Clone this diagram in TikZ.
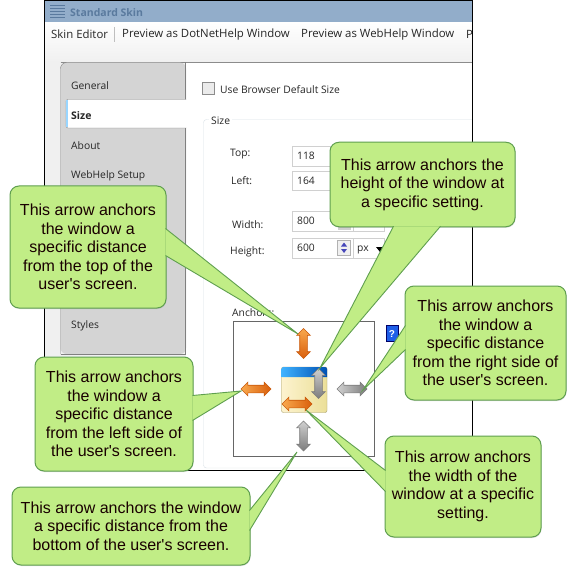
\documentclass[tikz,border=0pt]{standalone}
\usepackage{fontspec}
\setmainfont{Liberation Sans}
\newfontfamily\uifont{Open Sans}
\usepackage{xcolor}
\usetikzlibrary{
  arrows.meta,
  shapes.arrows,
  positioning,
  calc,
  shadows
}
\definecolor{csFill}{HTML}{C1ED86}
\definecolor{csLine}{HTML}{5F9F4F}
\definecolor{csTitle}{HTML}{92ADCA}
\definecolor{csTitleText}{HTML}{5A7A9E}
\definecolor{csPanel}{HTML}{D4D4D4}
\definecolor{csGroup}{HTML}{D8E0E6}
\definecolor{csField}{HTML}{D0D0D0}
\definecolor{csBack}{HTML}{F0F0F0}
\definecolor{csOrangeA}{HTML}{F9A94E}
\definecolor{csOrangeB}{HTML}{D95F0C}
\definecolor{csOrangeC}{HTML}{C9590B}
\definecolor{csGrayA}{HTML}{D0D0D0}
\definecolor{csGrayB}{HTML}{7C7C7C}
\definecolor{csHelp}{HTML}{1F5FE8}
\definecolor{csIconA}{HTML}{FDF3CF}
\definecolor{csIconB}{HTML}{EBDF98}
\tikzset{
  callout/.style={
    draw=csLine, fill=csFill, rounded corners=9pt, line width=1pt, align=center,
    font=\fontsize{16}{18.5}\selectfont, inner sep=0pt, text=black!90!red,
    drop shadow={shadow xshift=0.5pt, shadow yshift=-1pt, opacity=0.25}
  },
  tail/.style={draw=csLine, fill=csFill, line width=0.9pt, line join=miter},
  uitext/.style={font=\uifont\fontsize{10.3}{12}\selectfont, anchor=west, inner sep=0pt, text=black!85, yshift=-1pt},
  bartext/.style={uitext, font=\uifont\fontsize{11.4}{12}\selectfont},
  boldtext/.style={uitext, font=\uifont\bfseries\fontsize{10.5}{12}\selectfont},
  fieldbox/.style={draw=csField, fill=white, line width=1pt},
  arrowbase/.style={double arrow, minimum height=30pt, minimum width=13pt, inner xsep=0pt, inner ysep=3.5pt,
    double arrow head extend=3pt, double arrow head indent=0pt, line width=0.6pt},
  orangeh/.style={arrowbase, draw=csOrangeC, left color=csOrangeA, right color=csOrangeB},
  orangev/.style={arrowbase, draw=csOrangeC, rotate=90, top color=csOrangeA, bottom color=csOrangeB},
  grayh/.style={arrowbase, draw=csGrayB, left color=csGrayA, right color=csGrayB},
  grayv/.style={arrowbase, draw=csGrayB, rotate=90, top color=csGrayA, bottom color=csGrayB}
}

\begin{document}
\begin{tikzpicture}[x=1pt, y=-1pt]
  \useasboundingbox (0,0) rectangle (576,575);
  \fill[white] (0,0) rectangle (576,575);

  \begin{scope}
    \clip (44.5,0.5) rectangle (472.5,470);
    \fill[csBack] (44.5,22) rectangle (472.5,470);
    \shade[top color=white, bottom color=csBack] (44.5,22) rectangle (472.5,62);
    \fill[csTitle] (44.5,0.5) rectangle (472.5,22);
    \fill[white] (186,62) rectangle (472.5,470);
    \draw[black!45] (60.5,62.5) -- (472.5,62.5);
    \foreach \iy in {5,8,11,14,17} {
      \draw[csTitleText, line width=0.8pt] (50,\iy) -- (65,\iy);
    }
    \node[boldtext, text=csTitleText] (titleLabel) at (70,12) {Standard Skin};
    \node[bartext] (editorLabel) at (51,33.5) {Skin Editor};
    \draw[black!25] (114.5,27) -- (114.5,42);
    \node[bartext] (dotnetLabel) at (122,33.5) {Preview as DotNetHelp Window};
    \node[bartext] (webhelpLabel) at (301,33.5) {Preview as WebHelp Window};
    \node[bartext] (moreLabel) at (466,33.5) {P};

    \fill[csPanel, rounded corners=6pt] (186,62.5) -- (60.5,62.5) -- (60.5,354) -- (186,354) -- cycle;
    \draw[black!50, rounded corners=6pt] (186,62.5) -- (60.5,62.5) -- (60.5,354);
    \draw[black!50] (60.5,354) -- (185.5,354) -- (185.5,62.5);
    \draw[black!50, fill=white, rounded corners=2pt] (186,99.5) -- (66,99.5) -- (66,128) -- (186,128);
    \fill[white] (170,100) rectangle (187,127.5);
    \fill[blue!40!cyan!40] (66,100.5) rectangle (68,127.5);
    \node[uitext] (generalLabel) at (71,85) {General};
    \node[boldtext] (sizeTab) at (71,115) {Size};
    \node[uitext] (aboutLabel) at (71,145) {About};
    \node[uitext] (setupLabel) at (71,175) {WebHelp Setup};
    \node[uitext] (stylesLabel) at (71,325) {Styles};

    \draw[black!45, fill=black!8] (202.5,82.5) rectangle (214.5,94.5);
    \node[uitext] (browserLabel) at (220,89) {Use Browser Default Size};

    \draw[csGroup, rounded corners=3pt] (480,119.5) -- (203.5,119.5) -- (203.5,468) -- (480,468);
    \node[uitext, fill=white, inner xsep=2pt] (groupLabel) at (209,120) {Size};

    \node[uitext] (topLabel) at (230,153) {Top:};
    \node[uitext] (leftLabel) at (231,180) {Left:};
    \node[uitext] (widthLabel) at (232,224) {Width:};
    \node[uitext] (heightLabel) at (230,251) {Height:};
    \draw[fieldbox] (292.5,146.5) rectangle (400,166.5);
    \draw[fieldbox] (292.5,171.5) rectangle (400,191);
    \draw[fieldbox] (292.5,211.5) rectangle (384.5,231);
    \draw[fieldbox] (292.5,238.5) rectangle (384.5,258.5);
    \draw[csField, line width=1pt] (353.5,211.5) -- (353.5,231);
    \draw[csField, line width=1pt] (353.5,238.5) -- (353.5,258.5);
    \fill[csField] (337.5,212.5) rectangle (350.5,230);
    \draw[black!30, fill=black!6] (337.5,240.5) rectangle (350.5,255);
    \fill[blue!45!gray] (344,242.5) -- (347,246.5) -- (341,246.5) -- cycle;
    \fill[blue!45!gray] (344,253) -- (347,249) -- (341,249) -- cycle;
    \node[uitext] (topValue) at (297,155) {118};
    \node[uitext] (leftValue) at (297,180) {164};
    \node[uitext] (widthValue) at (297,220) {800};
    \node[uitext] (heightValue) at (297,247) {600};
    \node[uitext] (unitValue) at (357,249) {px};
    \fill[black] (376,247) -- (384,247) -- (380,252) -- cycle;

    \node[uitext] (anchorLabel) at (232,312) {Anchors:};
    \draw[black!60, line width=0.9pt] (233,321.5) rectangle (374.5,456);

    \fill[csHelp, draw=blue!40!black, line width=0.5pt] (386.5,325.5) rectangle (398,341);
    \node[font=\bfseries\fontsize{10}{11}\selectfont, text=white, inner sep=0pt] (helpMark) at (392,334) {?};
  \end{scope}
  \draw[black, line width=1pt] (44.5,470) -- (44.5,0.5) -- (472.5,0.5) -- (472.5,470) -- cycle;

  \shade[left color=csIconA, right color=csIconB, draw=csIconB!70!black, rounded corners=2pt] (281.5,367) rectangle (327,412.5);
  \shade[left color=cyan!60!blue!75, right color=blue!55!cyan!70!black, rounded corners=2pt]
    (281.5,377) -- (281.5,367) -- (327,367) [sharp corners] -- (327,377) -- cycle;

  \node[orangev] (arrowTop) at (303.5,343.5) {};
  \node[orangeh] (arrowLeft) at (256,389) {};
  \node[grayh] (arrowRight) at (352,389) {};
  \node[grayv] (arrowBottom) at (303.5,436) {};
  \node[grayv] (arrowHeight) at (318.5,383.5) {};
  \node[orangeh] (arrowWidth) at (297,404) {};

  \coordinate (tipTop) at (298,334);
  \coordinate (tipLeft) at (241,391);
  \coordinate (tipBottom) at (297,452);
  \coordinate (tipHeight) at (320,368);
  \coordinate (tipRight) at (363,390);
  \coordinate (tipWidth) at (306,410);

  \node[callout, minimum width=156pt, minimum height=122pt] (callTop) at (88,247) {This arrow anchors\\the window a\\specific distance\\from the top of the\\user\textquotesingle s screen.};
  \node[callout, minimum width=158pt, minimum height=114pt] (callLeft) at (114,414) {This arrow anchors\\the window a\\specific distance\\from the left side of\\the user\textquotesingle s screen.};
  \node[callout, minimum width=238pt, minimum height=78pt] (callBottom) at (131,526) {This arrow anchors the window\\a specific distance from the\\bottom of the user\textquotesingle s screen.};
  \node[callout, minimum width=185pt, minimum height=84.5pt] (callHeight) at (422.5,184.5) {This arrow anchors the\\height of the window at\\a specific setting.};
  \node[callout, minimum width=161pt, minimum height=114pt] (callRight) at (485.5,343) {This arrow anchors\\the window a\\specific distance\\from the right side of\\the user\textquotesingle s screen.};
  \node[callout, minimum width=156pt, minimum height=101pt] (callWidth) at (463,486.5) {This arrow anchors\\the width of the\\window at a specific\\setting.};

  \draw[tail] ($(callTop.north east)+(-1,43)$) -- (tipTop) -- ($(callTop.north east)+(-1,70)$);
  \draw[tail] ($(callLeft.north east)+(-1,39)$) -- (tipLeft) -- ($(callLeft.north east)+(-1,64)$);
  \draw[tail] ($(callBottom.north east)+(-1,24)$) -- (tipBottom) -- ($(callBottom.north east)+(-1,44)$);
  \draw[tail] ($(callHeight.south west)+(64,-1)$) -- (tipHeight) -- ($(callHeight.south west)+(111,-1)$);
  \draw[tail] ($(callRight.north west)+(1,40)$) -- (tipRight) -- ($(callRight.north west)+(1,64)$);
  \draw[tail] ($(callWidth.north west)+(1,35)$) -- (tipWidth) -- ($(callWidth.north west)+(1,56)$);
\end{tikzpicture}
\end{document}
